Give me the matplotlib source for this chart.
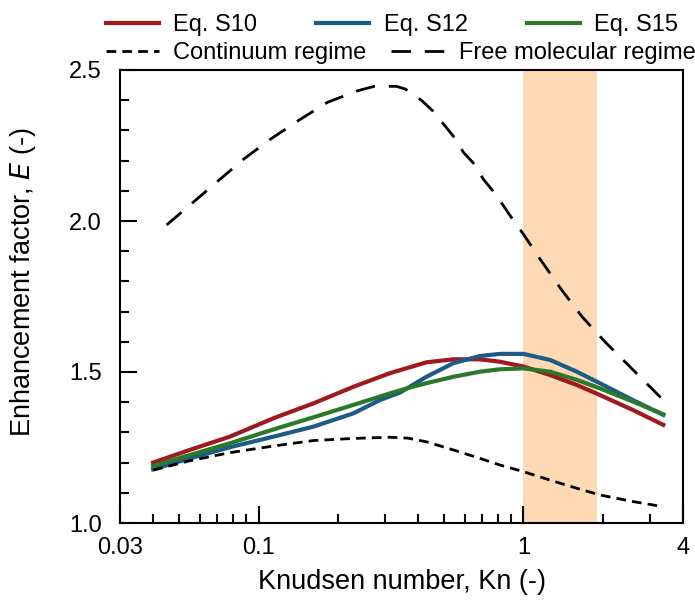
import numpy as np
import matplotlib.pyplot as plt
from matplotlib.ticker import FixedLocator, NullFormatter, MultipleLocator, FormatStrFormatter

plt.rcParams['font.family'] = ['Liberation Sans', 'DejaVu Sans']
plt.rcParams['xtick.direction'] = 'in'
plt.rcParams['ytick.direction'] = 'in'

# Eq. S10
kn_s10 = [0.04, 0.055, 0.078, 0.114, 0.161, 0.228, 0.313, 0.43, 0.543, 0.685, 0.815, 1.0, 1.26, 1.59, 1.94, 2.59, 3.37]
e_s10 = [1.200, 1.242, 1.286, 1.347, 1.396, 1.451, 1.496, 1.532, 1.542, 1.542, 1.534, 1.518, 1.490, 1.457, 1.424, 1.374, 1.325]

# Eq. S12
kn_s12 = [0.04, 0.055, 0.078, 0.114, 0.161, 0.228, 0.287, 0.342, 0.43, 0.543, 0.685, 0.815, 1.0, 1.26, 1.59, 1.94, 2.59, 3.37]
e_s12 = [1.178, 1.214, 1.251, 1.286, 1.319, 1.363, 1.407, 1.432, 1.484, 1.529, 1.553, 1.560, 1.560, 1.540, 1.501, 1.463, 1.407, 1.358]

# Eq. S15
kn_s15 = [0.04, 0.055, 0.078, 0.114, 0.161, 0.228, 0.313, 0.367, 0.43, 0.543, 0.685, 0.815, 1.0, 1.26, 1.59, 1.94, 2.59, 3.37]
e_s15 = [1.189, 1.225, 1.264, 1.310, 1.350, 1.391, 1.429, 1.447, 1.463, 1.484, 1.501, 1.509, 1.512, 1.501, 1.474, 1.446, 1.402, 1.360]

# continuum regime
kn_cont = [0.04, 0.055, 0.078, 0.114, 0.161, 0.228, 0.313, 0.367, 0.43, 0.543, 0.685, 0.815, 1.0, 1.26, 1.59, 1.94, 2.59, 3.37]
e_cont = [1.175, 1.206, 1.233, 1.255, 1.273, 1.280, 1.284, 1.281, 1.269, 1.242, 1.214, 1.192, 1.170, 1.142, 1.115, 1.093, 1.071, 1.054]

# free molecular regime
kn_fm = [0.045, 0.0565, 0.0704, 0.0879, 0.111, 0.141, 0.182, 0.238, 0.274, 0.331, 0.358, 0.413,
         0.454, 0.499, 0.548, 0.594, 0.653, 0.706, 0.776, 0.841, 0.909, 1.0, 1.17, 1.39, 1.66, 2.03, 3.37]
e_fm = [1.987, 2.061, 2.133, 2.205, 2.271, 2.332, 2.393, 2.432, 2.446, 2.446, 2.437, 2.399,
        2.365, 2.321, 2.277, 2.227, 2.188, 2.138, 2.094, 2.050, 2.006, 1.956, 1.867, 1.773, 1.684, 1.600, 1.407]

shade_range = (1.0, 1.9)
xticks = [0.03, 0.1, 1, 4]
xticklabels = ['0.03', '0.1', '1', '4']
xminor = [0.04, 0.05, 0.06, 0.07, 0.08, 0.09, 0.2, 0.3, 0.4, 0.5, 0.6, 0.7, 0.8, 0.9, 2, 3]

fig = plt.figure(figsize=(6.95, 6.04), dpi=100)
ax = fig.add_axes([120 / 695, 1 - 523 / 604, 563 / 695, 453 / 604])

ax.axvspan(*shade_range, color='#FDDAB4', lw=0, zorder=0)

l1, = ax.plot(kn_s10, e_s10, color='#A0191E', lw=3, label='Eq. S10')
l2, = ax.plot(kn_s12, e_s12, color='#1D5B87', lw=3, label='Eq. S12')
l3, = ax.plot(kn_s15, e_s15, color='#2B7A2B', lw=3, label='Eq. S15')
l4, = ax.plot(kn_cont, e_cont, color='black', lw=2, dashes=(3.5, 2.2), label='Continuum regime')
l5, = ax.plot(kn_fm, e_fm, color='black', lw=2, dashes=(7, 5), label='Free molecular regime')

ax.set_xscale('log')
ax.set_xlim(0.03, 4)
ax.set_ylim(1.0, 2.5)
ax.xaxis.set_major_locator(FixedLocator(xticks))
ax.set_xticklabels(xticklabels)
ax.xaxis.set_minor_locator(FixedLocator(xminor))
ax.xaxis.set_minor_formatter(NullFormatter())
ax.yaxis.set_major_locator(MultipleLocator(0.5))
ax.yaxis.set_minor_locator(MultipleLocator(0.1))
ax.yaxis.set_major_formatter(FormatStrFormatter('%.1f'))

ax.tick_params(which='both', direction='in', width=1.5, color='black',
               labelsize=17, top=False, right=False)
ax.tick_params(which='major', length=12)
ax.tick_params(which='minor', length=6.5)
ax.tick_params(axis='x', which='major', pad=10)
ax.tick_params(axis='y', which='major', pad=13)
for s in ax.spines.values():
    s.set_linewidth(1.5)

ax.set_xlabel('Knudsen number, Kn (-)', fontsize=19.5, labelpad=7)
ax.set_ylabel('Enhancement factor, $\\mathit{E}$ (-)', fontsize=19.5)
ax.yaxis.set_label_coords(-0.145, 0.532)

leg_kw = dict(frameon=False, fontsize=17, loc='center left', borderpad=0, borderaxespad=0,
              handlelength=2.25, handletextpad=0.6, bbox_transform=fig.transFigure)
leg1 = ax.legend(handles=[l1, l2, l3], ncol=3, columnspacing=2.5,
                 bbox_to_anchor=(106 / 695, 1 - 25 / 604), **leg_kw)
ax.add_artist(leg1)
ax.legend(handles=[l4, l5], ncol=2, columnspacing=1.05,
          bbox_to_anchor=(106 / 695, 1 - 53 / 604), **leg_kw)

fig.savefig('out.png', dpi=100)
